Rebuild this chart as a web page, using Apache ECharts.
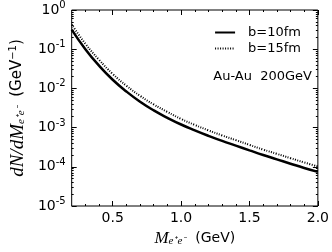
<!DOCTYPE html>
<html><head><meta charset="utf-8">
<script src="https://cdn.jsdelivr.net/npm/echarts@6/dist/echarts.min.js"></script>
<style>html,body{margin:0;padding:0;background:#fff}#c{width:332px;height:252px}</style>
</head><body><div id="c"></div>
<script>
const mass = [0.2,0.3,0.4,0.5,0.6,0.7,0.8,0.9,1.0,1.1,1.2,1.3,1.4,1.5,1.6,1.7,1.8,1.9,2.0];
const b10 = [0.316,0.100,0.0380,0.0166,0.00832,0.00457,0.00275,0.00178,0.00120,8.51e-4,6.17e-4,4.57e-4,3.47e-4,2.63e-4,2.00e-4,1.55e-4,1.20e-4,9.33e-5,7.41e-5];
const b15 = [0.427,0.138,0.0537,0.0234,0.0117,0.00646,0.00389,0.00251,0.00166,0.00117,8.51e-4,6.31e-4,4.79e-4,3.63e-4,2.75e-4,2.14e-4,1.66e-4,1.29e-4,1.02e-4];
const xTicks = [0.5,1.0,1.5,2.0];
const xMinor = [0.3,0.4,0.6,0.7,0.8,0.9,1.1,1.2,1.3,1.4,1.6,1.7,1.8,1.9];
const yTicks = [1e-5,1e-4,1e-3,1e-2,1e-1,1];
const yMinor = [];
for (let e=-5;e<0;e++) for (let m=2;m<=9;m++) yMinor.push(m*Math.pow(10,e));
const names = ['b=10fm','b=15fm'];
const note = 'Au-Au  200GeV';

const FONT = 'DejaVu Sans';
const chart = echarts.init(document.getElementById('c'), null, {renderer:'canvas'});
const xBase = {type:'value', min:0.2, max:2.0, gridIndex:0, splitLine:{show:false},
  axisLine:{show:false}};
const yBase = {type:'log', logBase:10, min:1e-5, max:1, splitLine:{show:false}, axisLine:{show:false}};
const tickStyle = {color:'#000', width:1};
chart.setOption({
  animation:false,
  grid:{left:56, right:14, top:10, bottom:40, show:true, borderColor:'#000', borderWidth:1, backgroundColor:'#fff'},
  title:{text:note, right:15, top:65, textStyle:{fontFamily:FONT, fontSize:13, fontWeight:'normal', color:'#000'}},
  legend:{orient:'vertical', right:26, top:21, itemWidth:20, itemHeight:12, itemGap:3, data:names,
    itemStyle:{opacity:0},
    textStyle:{fontFamily:FONT, fontSize:13, color:'#000', padding:[0,0,0,8]}},
  xAxis:[
    Object.assign({}, xBase, {position:'bottom', name:'{i|M}{s|e⁺e⁻}  (GeV)', nameLocation:'middle', nameGap:24,
      nameTextStyle:{fontFamily:FONT, fontSize:14, color:'#000', rich:{i:{fontFamily:'Liberation Serif', fontStyle:'italic', fontSize:17, color:'#000'}, s:{fontFamily:'Liberation Serif', fontStyle:'italic', fontSize:11, color:'#000', padding:[6,0,0,0]}}},
      axisTick:{show:true, inside:true, length:5, lineStyle:tickStyle, customValues:xTicks},
      axisLabel:{show:true, customValues:xTicks, margin:5, fontFamily:FONT, fontSize:14, color:'#000', formatter:v=>v.toFixed(1)}}),
    Object.assign({}, xBase, {position:'bottom',
      axisTick:{show:true, inside:true, length:2, lineStyle:tickStyle, customValues:xMinor}, axisLabel:{show:false}}),
    Object.assign({}, xBase, {position:'top',
      axisTick:{show:true, inside:true, length:5, lineStyle:tickStyle, customValues:xTicks}, axisLabel:{show:false}}),
    Object.assign({}, xBase, {position:'top',
      axisTick:{show:true, inside:true, length:2, lineStyle:tickStyle, customValues:xMinor}, axisLabel:{show:false}})
  ],
  yAxis:[
    Object.assign({}, yBase, {position:'left', name:'{i|dN/dM}{s|e⁺e⁻}  (GeV{u|−1})', nameLocation:'middle', nameGap:38, nameRotate:90,
      nameTextStyle:{fontFamily:FONT, fontSize:15, color:'#000', rich:{i:{fontFamily:'Liberation Serif', fontStyle:'italic', fontSize:19, color:'#000'}, s:{fontFamily:'Liberation Serif', fontStyle:'italic', fontSize:11, color:'#000', padding:[8,0,0,0]}, u:{fontFamily:FONT, fontSize:10, color:'#000', padding:[0,0,8,0]}}},
      axisTick:{show:true, inside:true, length:5, lineStyle:tickStyle, customValues:yTicks},
      axisLabel:{show:true, customValues:yTicks, margin:6, fontFamily:FONT, fontSize:14, color:'#000',
        formatter:v=>'10{s|'+Math.round(Math.log10(v))+'}',
        rich:{s:{fontFamily:FONT, fontSize:10, color:'#000', padding:[0,0,9,0]}}}}),
    Object.assign({}, yBase, {position:'left',
      axisTick:{show:true, inside:true, length:2, lineStyle:tickStyle, customValues:yMinor}, axisLabel:{show:false}}),
    Object.assign({}, yBase, {position:'right',
      axisTick:{show:true, inside:true, length:5, lineStyle:tickStyle, customValues:yTicks}, axisLabel:{show:false}}),
    Object.assign({}, yBase, {position:'right',
      axisTick:{show:true, inside:true, length:2, lineStyle:tickStyle, customValues:yMinor}, axisLabel:{show:false}})
  ],
  series:[
    {name:names[0], type:'line', xAxisIndex:0, yAxisIndex:0, symbol:'none', smooth:true,
      data:mass.map((m,i)=>[m,b10[i]]), lineStyle:{color:'#000', width:2.5, type:'solid'}, itemStyle:{color:'#000'}},
    {name:names[1], type:'line', xAxisIndex:0, yAxisIndex:0, symbol:'none', smooth:true,
      data:mass.map((m,i)=>[m,b15[i]]), lineStyle:{color:'#000', width:2, type:[1,1.5]}, itemStyle:{color:'#000'}}
  ]
});
</script></body></html>
